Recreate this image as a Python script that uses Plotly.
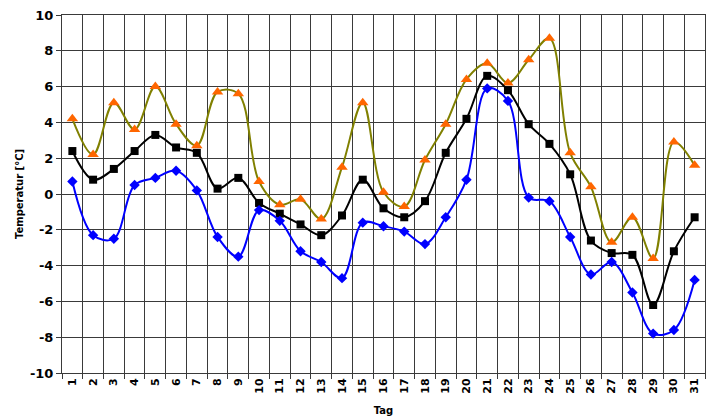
import plotly.graph_objects as go

tage = [str(i) for i in range(1, 32)]
t_max = [4.2, 2.2, 5.1, 3.6, 6.0, 3.9, 2.7, 5.7, 5.6, 0.7, -0.6, -0.3, -1.4, 1.5, 5.1, 0.1,
         -0.7, 1.9, 3.9, 6.4, 7.3, 6.2, 7.5, 8.7, 2.3, 0.4, -2.7, -1.3, -3.6, 2.9, 1.6]
t_mittel = [2.4, 0.8, 1.4, 2.4, 3.3, 2.6, 2.3, 0.3, 0.9, -0.5, -1.1, -1.7, -2.3, -1.2, 0.8, -0.8,
            -1.3, -0.4, 2.3, 4.2, 6.6, 5.8, 3.9, 2.8, 1.1, -2.6, -3.3, -3.4, -6.2, -3.2, -1.3]
t_min = [0.7, -2.3, -2.5, 0.5, 0.9, 1.3, 0.2, -2.4, -3.5, -0.9, -1.5, -3.2, -3.8, -4.7, -1.6, -1.8,
         -2.1, -2.8, -1.3, 0.8, 5.9, 5.2, -0.2, -0.4, -2.4, -4.5, -3.8, -5.5, -7.8, -7.6, -4.8]
y_ticks = [-10, -8, -6, -4, -2, 0, 2, 4, 6, 8, 10]
y_ticktext = [str(v) for v in y_ticks]

fig = go.Figure()
fig.add_trace(go.Scatter(x=tage, y=t_max, mode="lines+markers", name="Max",
                         line=dict(color="#808000", width=2, shape="spline", smoothing=1),
                         marker=dict(symbol="triangle-up", size=10, color="#FF6600")))
fig.add_trace(go.Scatter(x=tage, y=t_mittel, mode="lines+markers", name="Mittel",
                         line=dict(color="#000000", width=2, shape="spline", smoothing=1),
                         marker=dict(symbol="square", size=8, color="#000000")))
fig.add_trace(go.Scatter(x=tage, y=t_min, mode="lines+markers", name="Min",
                         line=dict(color="#0000FF", width=2, shape="spline", smoothing=1),
                         marker=dict(symbol="diamond", size=8, color="#0000FF")))

font = "DejaVu Sans"
grid = "#3a3a3a"
fig.update_layout(
    width=710, height=418,
    margin=dict(l=62, r=5, t=15, b=45),
    paper_bgcolor="white", plot_bgcolor="white",
    showlegend=False,
    font=dict(family=font, color="black"),
    xaxis=dict(type="category", range=[-0.5, 30.5], tickson="boundaries", showgrid=True,
               gridcolor=grid, gridwidth=1, automargin=False,
               ticks="outside", ticklen=5, tickcolor=grid, tickangle=-90,
               tickfont=dict(family=font, size=11, color="black", weight="bold"),
               showline=True, linecolor=grid, mirror=True,
               title=dict(text="<b>Tag</b>", font=dict(family=font, size=10), standoff=14)),
    yaxis=dict(range=[-10, 10], tickvals=y_ticks, ticktext=y_ticktext, showgrid=True,
               gridcolor=grid, gridwidth=1, automargin=False,
               zeroline=False, ticks="outside", ticklen=5, tickcolor=grid,
               tickfont=dict(family=font, size=13, color="black", weight="bold"),
               showline=True, linecolor=grid, mirror=True,
               title=dict(text="<b>Temperatur [°C]</b>", font=dict(family=font, size=10), standoff=4)),
)

fig.write_html("out.html", config={"displayModeBar": False},
               post_script="document.body.style.margin='0px';")
